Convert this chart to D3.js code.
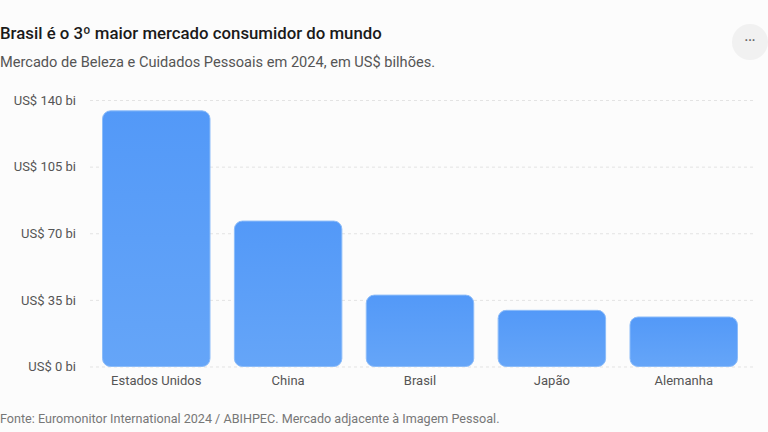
<!DOCTYPE html>
<html>
<head>
<meta charset="utf-8">
<script src="https://cdn.jsdelivr.net/npm/d3@7"></script>
<style>
  html,body{margin:0;padding:0;background:#fcfcfc;}
  svg{display:block;font-family:Roboto,"Noto Sans",sans-serif;}
</style>
</head>
<body>
<svg id="chart" width="768" height="432"></svg>
<script>
var countries=['Estados Unidos','China','Brasil','Japão','Alemanha'];
var values=[134.3,76.4,37.5,29.5,26];
var ticks=[0,35,70,105,140];
var title='Brasil é o 3º maior mercado consumidor do mundo';
var subtitle='Mercado de Beleza e Cuidados Pessoais em 2024, em US$ bilhões.';
var source='Fonte: Euromonitor International 2024 / ABIHPEC. Mercado adjacente à Imagem Pessoal.';

var svg=d3.select('#chart');
var plot={left:90,right:754,top:100,bottom:366.5};

var defs=svg.append('defs');
var grad=defs.append('linearGradient').attr('id','barfill').attr('x1',0).attr('y1',0).attr('x2',0).attr('y2',1);
grad.append('stop').attr('offset','0%').attr('stop-color','#5399f8');
grad.append('stop').attr('offset','100%').attr('stop-color','#65a5f8');

var x=d3.scaleBand().domain(countries).range([plot.left,plot.right-4]).paddingInner(0.185).paddingOuter(0.095);
var y=d3.scaleLinear().domain([0,140]).range([plot.bottom,plot.top]);

// titles
svg.append('text').attr('x',0).attr('y',39).text(title)
  .style('font-size','16.8px').style('font-weight',500).style('fill','#1a1a1a');
svg.append('text').attr('x',0).attr('y',67).text(subtitle)
  .style('font-size','14.6px').style('fill','#555');

// menu button
svg.append('circle').attr('cx',750).attr('cy',42).attr('r',18).attr('fill','#f1f1f1');
svg.append('text').attr('x',750).attr('y',45).attr('text-anchor','middle').text('···')
  .style('font-size','12px').style('font-weight',700).style('fill','#666');

// grid + y axis
var yAxis=d3.axisLeft(y).tickValues(ticks).tickSize(-(plot.right-plot.left)).tickPadding(14)
  .tickFormat(function(d){return 'US$ '+d+' bi';});
var gy=svg.append('g').attr('transform','translate('+plot.left+',0)').call(yAxis);
gy.select('.domain').remove();
gy.selectAll('.tick line').attr('stroke','#e3e3e3').attr('stroke-dasharray','3,3');
gy.selectAll('.tick text').style('font-size','13px').style('fill','#555').style('font-family','Roboto,sans-serif');

// bars
svg.append('g').selectAll('rect').data(values).enter().append('rect')
  .attr('x',function(d,i){return x(countries[i]);})
  .attr('y',function(d){return y(d);})
  .attr('width',x.bandwidth())
  .attr('height',function(d){return y(0)-y(d);})
  .attr('rx',8).attr('ry',8)
  .attr('fill','url(#barfill)')
  .attr('stroke','#8cbcf9').attr('stroke-width',1);

// x axis
var xAxis=d3.axisBottom(x).tickSize(0).tickPadding(9);
var gx=svg.append('g').attr('transform','translate(0,'+plot.bottom+')').call(xAxis);
gx.select('.domain').remove();
gx.selectAll('.tick text').style('font-size','13px').style('fill','#555').style('font-family','Roboto,sans-serif');

svg.append('text').attr('x',0).attr('y',423).text(source)
  .style('font-size','12.6px').style('fill','#777');
</script>
</body>
</html>
